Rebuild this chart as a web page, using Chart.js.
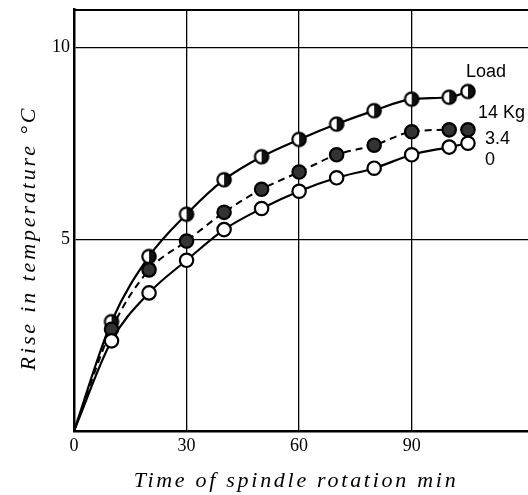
<!DOCTYPE html>
<html>
<head>
<meta charset="utf-8">
<script src="https://cdn.jsdelivr.net/npm/chart.js@4.4.1/dist/chart.umd.min.js"></script>
<style>
  html, body { margin: 0; padding: 0; background: #fff; }
  #wrap { width: 528px; height: 495px; }
</style>
</head>
<body>
<div id="wrap"><canvas id="tempChart" width="528" height="495"></canvas></div>
<script>
    // spindle rotation time (min), origin included
    const times = [0, 10, 20, 30, 40, 50, 60, 70, 80, 90, 100, 105];
    const rise14kg = [0, 2.85, 4.55, 5.65, 6.55, 7.15, 7.6, 8.0, 8.35, 8.65, 8.7, 8.85];
    const rise34kg = [0, 2.65, 4.2, 4.95, 5.7, 6.3, 6.75, 7.2, 7.45, 7.8, 7.85, 7.85];
    const rise0kg = [0, 2.35, 3.6, 4.45, 5.25, 5.8, 6.25, 6.6, 6.85, 7.2, 7.4, 7.5];
    const xTicks = [0, 30, 60, 90];
    const yTicks = [5, 10];
    const loadLabels = ['14 Kg', '3.4', '0'];

    const ctx = document.getElementById('tempChart').getContext('2d');

    function halfMarker() {
      const c = document.createElement('canvas');
      c.width = 18; c.height = 18;
      const g = c.getContext('2d');
      g.beginPath();
      g.arc(9, 9, 6.7, 0, Math.PI * 2);
      g.fillStyle = '#fff';
      g.fill();
      g.beginPath();
      g.arc(9, 9, 6.7, -Math.PI / 2, Math.PI / 2);
      g.closePath();
      g.fillStyle = '#111';
      g.fill();
      g.beginPath();
      g.arc(9, 9, 6.7, 0, Math.PI * 2);
      g.lineWidth = 2.2;
      g.strokeStyle = '#000';
      g.stroke();
      return c;
    }
    const halfImg = halfMarker();

    const toPoints = ys => times.map((t, i) => ({ x: t, y: ys[i] }));
    const hideOrigin = c => c.dataIndex === 0 ? 0 : 6.7;

    const frameAndText = {
      id: 'frameAndText',
      afterDraw(chart) {
        const { ctx: g, chartArea: a } = chart;
        g.save();
        // top frame line
        g.strokeStyle = '#000';
        g.lineWidth = 2;
        g.beginPath();
        g.moveTo(a.left, a.top + 1);
        g.lineTo(a.right, a.top + 1);
        g.stroke();

        // axis titles
        g.fillStyle = '#000';
        g.font = 'italic 22px "Liberation Serif"';
        g.textBaseline = 'alphabetic';
        g.textAlign = 'center';
        const xt = 'Time of spindle rotation min';
        g.letterSpacing = '0px';
        let w = g.measureText(xt).width;
        g.letterSpacing = ((322 - w) / (xt.length - 1)).toFixed(2) + 'px';
        g.fillText(xt, 296, 487);

        const yt = 'Rise in temperature °C';
        g.letterSpacing = '0px';
        w = g.measureText(yt).width;
        g.letterSpacing = ((262 - w) / (yt.length - 1)).toFixed(2) + 'px';
        g.translate(35, 238);
        g.rotate(-Math.PI / 2);
        g.fillText(yt, 0, 0);
        g.restore();

        // load labels
        g.save();
        g.fillStyle = '#000';
        g.font = '18px "Liberation Sans"';
        g.textAlign = 'left';
        g.textBaseline = 'alphabetic';
        g.fillText('Load', 466, 77);
        g.fillText(loadLabels[0], 478, 118);
        g.fillText(loadLabels[1], 485, 144);
        g.fillText(loadLabels[2], 485, 165);
        g.restore();
      }
    };

    new Chart(ctx, {
      type: 'line',
      data: {
        datasets: [
          {
            label: '0',
            data: toPoints(rise0kg),
            borderColor: '#000',
            borderWidth: 2.2,
            cubicInterpolationMode: 'monotone',
            pointStyle: 'circle',
            pointRadius: hideOrigin,
            pointBackgroundColor: '#fff',
            pointBorderColor: '#000',
            pointBorderWidth: 2.2
          },
          {
            label: '3.4',
            data: toPoints(rise34kg),
            borderColor: '#000',
            borderWidth: 2,
            borderDash: [7, 5],
            cubicInterpolationMode: 'monotone',
            pointStyle: 'circle',
            pointRadius: hideOrigin,
            pointBackgroundColor: '#333',
            pointBorderColor: '#000',
            pointBorderWidth: 2.2
          },
          {
            label: '14 Kg',
            data: toPoints(rise14kg),
            borderColor: '#000',
            borderWidth: 2.2,
            cubicInterpolationMode: 'monotone',
            pointStyle: c => c.dataIndex === 0 ? false : halfImg,
            pointRadius: hideOrigin
          }
        ]
      },
      options: {
        responsive: false,
        animation: false,
        layout: { autoPadding: false, padding: { top: 9, right: 0, left: 0, bottom: 0 } },
        plugins: { legend: { display: false }, tooltip: { enabled: false } },
        scales: {
          x: {
            type: 'linear',
            min: 0,
            max: 121,
            afterBuildTicks: s => { s.ticks = xTicks.map(v => ({ value: v })); },
            afterFit: s => { s.height = 64; s.paddingLeft = 0; s.paddingRight = 0; },
            ticks: {
              color: '#000',
              font: { family: '"Liberation Serif"', size: 18 },
              padding: 4,
              maxRotation: 0
            },
            grid: {
              color: '#000',
              lineWidth: 1.3,
              drawTicks: false
            },
            border: { color: '#000', width: 2.5 }
          },
          y: {
            min: 0,
            max: 11,
            afterBuildTicks: s => { s.ticks = yTicks.map(v => ({ value: v })); },
            afterFit: s => { s.width = 74; s.paddingTop = 0; s.paddingBottom = 0; },
            ticks: {
              color: '#000',
              font: { family: '"Liberation Serif"', size: 18 },
              padding: 4
            },
            grid: {
              color: '#000',
              lineWidth: 1.3,
              drawTicks: false
            },
            border: { color: '#000', width: 2.5 }
          }
        }
      },
      plugins: [frameAndText]
    });
</script>
</body>
</html>
